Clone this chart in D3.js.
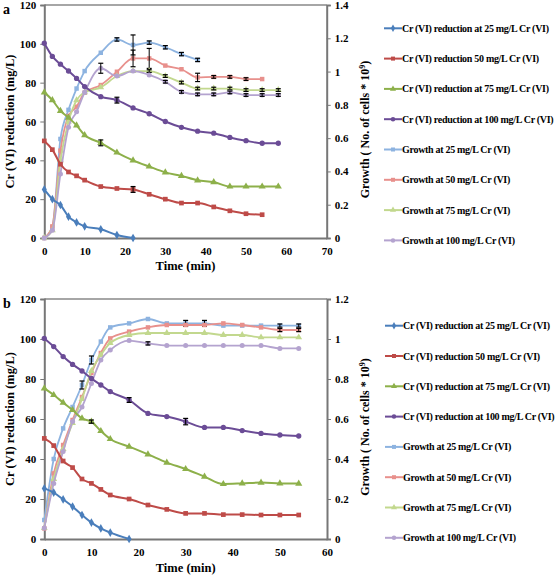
<!DOCTYPE html>
<html><head><meta charset="utf-8">
<script src="https://cdn.jsdelivr.net/npm/d3@7"></script>
<style>
body{margin:0;background:#fff;}
svg text{font-family:"Liberation Serif","Times New Roman",serif;font-weight:bold;fill:#000;}
</style></head>
<body><svg id="c" width="557" height="577"></svg>
<script>
// ---------- DATA ----------
const seriesNames = [
  "Cr (VI) reduction at 25 mg/L Cr (VI)",
  "Cr (VI) reduction 50 mg/L Cr (VI)",
  "Cr (VI) reduction at 75 mg/L Cr (VI)",
  "Cr (VI) reduction at 100 mg/L Cr (VI)",
  "Growth at 25 mg/L Cr (VI)",
  "Growth at 50 mg/L Cr (VI)",
  "Growth at 75 mg/L Cr (VI)",
  "Growth at 100 mg/L Cr (VI)"
];
const seriesColors = ["#4A7EBB","#BE4B48","#8DB04A","#6B4C96","#8DB3E0","#E8908C","#C2D88E","#B4A3CF"];
const seriesMarkers = ["diamond","square","triangle","circle","square","square","triangle","circle"];

// Panel a
const timeA = [0,2,4,6,8,10,14,18,22,26,30,34,38,42,46,50,54,58];
const crA25  = [25,20,17,11,8,6,4.5,1.5,0];
const crA50  = [50,45.5,38,34,32,29.8,26.5,25.5,25,22.5,20,18,18,16,14,12.5,12];
const crA75  = [75,71,65.5,62,58,53,49,44,40,36.8,33.8,32,29.7,28.8,26.5,26.5,26.5,26.5];
const crA100 = [100.3,93.5,89.5,86,82.2,78,72.8,71,67,64,60,57,55,54,51.8,50.1,48.8,48.8];
const grA25  = [0,0.064,0.595,0.77,0.898,1.003,1.113,1.193,1.16,1.174,1.146,1.105,1.07];
const grA50  = [0,0.07,0.525,0.733,0.789,0.873,0.919,0.999,1.079,1.079,1.036,1.014,0.965,0.968,0.968,0.955,0.955];
const grA75  = [0,0.047,0.467,0.70,0.828,0.875,0.905,0.973,1.003,1.003,0.973,0.934,0.898,0.898,0.898,0.889,0.889,0.889];
const grA100 = [0,0.047,0.385,0.665,0.758,0.875,1.02,0.973,1.003,0.98,0.939,0.878,0.863,0.863,0.875,0.859,0.859,0.859];
// error bars [time, +/- error]
const errA = [[],[[22,1.5]],[[14,1.5]],[[18,1.5]],
  [[22,0.06],[18,0.01],[26,0.01],[30,0.01],[34,0.01],[38,0.01]],
  [[22,0.05],[26,0.06],[38,0.025],[42,0.008],[46,0.008],[50,0.008]],
  [[26,0.008],[30,0.008],[34,0.008],[38,0.008],[42,0.008],[46,0.008],[50,0.008],[54,0.008],[58,0.008]],
  [[14,0.03],[30,0.008],[34,0.008],[38,0.008],[42,0.008],[46,0.008],[50,0.008],[54,0.008],[58,0.008]]];
const xTicksA = [0,10,20,30,40,50,60,70];
const yLTicksA = [0,20,40,60,80,100,120];
const yRTicksA = [0,0.2,0.4,0.6,0.8,1,1.2,1.4];

// Panel b
const timeB = [0,2,4,6,8,10,12,14,18,22,26,30,34,38,42,46,50,54];
const crB25  = [25.3,23.2,19.8,16.2,12,8.2,5.3,3.2,0];
const crB50  = [50.3,46.7,39,35.7,30,27.8,24.8,22,20,17,14.8,12.8,12.8,12.2,12.2,12,12,12];
const crB75  = [75.3,72,68.2,64.5,60.3,58.7,54,50,46.2,42.3,38.2,35,31.2,27.5,27.8,28.2,27.8,27.7];
const crB100 = [100.3,96.2,91.2,87.3,84,80.3,77,73.7,69.5,62.8,61.2,58.7,55.8,55.8,54.2,52.8,52,51.5];
const grB25  = [0.095,0.40,0.553,0.66,0.77,0.895,0.987,1.058,1.078,1.10,1.078,1.078,1.078,1.067,1.067,1.067,1.067,1.067];
const grB50  = [0.053,0.328,0.47,0.595,0.71,0.83,0.93,1.003,1.037,1.058,1.07,1.07,1.07,1.078,1.07,1.058,1.045,1.045];
const grB75  = [0.055,0.30,0.45,0.58,0.70,0.84,0.92,0.98,1.02,1.03,1.03,1.03,1.03,1.02,1.02,1.008,1.008,1.008];
const grB100 = [0.055,0.278,0.437,0.587,0.66,0.778,0.895,0.945,0.992,0.978,0.967,0.967,0.967,0.967,0.967,0.967,0.953,0.953];
const errB = [[],[],[[10,0.8]],[[18,1.2],[30,1.6]],
  [[8,0.02],[10,0.02],[30,0.015],[34,0.015],[50,0.008],[54,0.008]],
  [[50,0.008],[54,0.008]],
  [],
  [[22,0.008]]];
const xTicksB = [0,10,20,30,40,50,60];
const yLTicksB = [0,20,40,60,80,100,120];
const yRTicksB = [0,0.2,0.4,0.6,0.8,1,1.2];

// ---------- DRAW ----------
const svg = d3.select("#c");

function markerPath(type, s){
  const sym = {diamond:d3.symbolDiamond, square:d3.symbolSquare, triangle:d3.symbolTriangle, circle:d3.symbolCircle}[type];
  return d3.symbol().type(sym).size(s)();
}

function panel(cfg){
  const g = svg.append("g");
  const x = d3.scaleLinear().domain([0, cfg.xMax]).range([cfg.left, cfg.right]);
  const yL = d3.scaleLinear().domain([0,120]).range([cfg.bottom, cfg.top]);
  const yR = d3.scaleLinear().domain([0, cfg.rMax]).range([cfg.bottom, cfg.top]);

  // frame
  g.append("line").attr("x1",cfg.left).attr("x2",cfg.right).attr("y1",cfg.top).attr("y2",cfg.top)
    .attr("stroke","#888").attr("stroke-width",1.5);

  const ax = d3.axisBottom(x).tickValues(cfg.xTicks).tickSize(0).tickPadding(9);
  const gx = g.append("g").attr("transform",`translate(0,${cfg.bottom})`).call(ax);
  const al = d3.axisLeft(yL).tickValues(cfg.yLTicks).tickSize(4).tickPadding(4);
  const gl = g.append("g").attr("transform",`translate(${cfg.left},0)`).call(al);
  const ar = d3.axisRight(yR).tickValues(cfg.yRTicks).tickSize(4).tickPadding(4)
     .tickFormat(d=>d3.format("~g")(d));
  const gr = g.append("g").attr("transform",`translate(${cfg.right},0)`).call(ar);
  [gx,gl,gr].forEach(a=>{
    a.select(".domain").attr("stroke","#777").attr("stroke-width",2);
    a.selectAll(".tick line").attr("stroke","#777");
    a.selectAll("text").attr("font-size",11).attr("font-family","Liberation Serif").attr("font-weight","bold");
  });

  const all = [
    {t:cfg.time, v:cfg.cr[0], s:yL}, {t:cfg.time, v:cfg.cr[1], s:yL},
    {t:cfg.time, v:cfg.cr[2], s:yL}, {t:cfg.time, v:cfg.cr[3], s:yL},
    {t:cfg.time, v:cfg.gr[0], s:yR}, {t:cfg.time, v:cfg.gr[1], s:yR},
    {t:cfg.time, v:cfg.gr[2], s:yR}, {t:cfg.time, v:cfg.gr[3], s:yR}
  ];
  // draw order: growth first (light) then reduction on top
  const order = [4,5,6,7,0,1,2,3];
  order.forEach(i=>{
    const S = all[i];
    const pts = S.v.map((v,k)=>[S.t[k], v]);
    const line = d3.line().x(d=>x(d[0])).y(d=>S.s(d[1])).curve(d3.curveMonotoneX);
    g.append("path").attr("d", line(pts)).attr("fill","none")
      .attr("stroke", seriesColors[i]).attr("stroke-width", i<4?2:1.8);
    g.selectAll(null).data(pts).enter().append("path")
      .attr("d", markerPath(seriesMarkers[i], i<4?22:20))
      .attr("transform", d=>`translate(${x(d[0])},${S.s(d[1])})`)
      .attr("fill", seriesColors[i]);
    // error bars
    const errs = cfg.err[i];
    errs.forEach(([t,e])=>{
      const k = S.t.indexOf(t); if(k<0 || k>=S.v.length) return;
      const cx = x(t), y1 = S.s(S.v[k]+e), y2 = S.s(S.v[k]-e);
      g.append("line").attr("x1",cx).attr("x2",cx).attr("y1",y1).attr("y2",y2).attr("stroke","#000").attr("stroke-width",1);
      [y1,y2].forEach(yy=>g.append("line").attr("x1",cx-2.5).attr("x2",cx+2.5).attr("y1",yy).attr("y2",yy).attr("stroke","#000").attr("stroke-width",1.2));
    });
  });

  // titles
  g.append("text").attr("transform",`translate(${cfg.left-30},${(cfg.top+cfg.bottom)/2}) rotate(-90)`)
    .attr("text-anchor","middle").attr("font-size",12.5).text("Cr (VI) reduction (mg/L)");
  const rt = g.append("text").attr("transform",`translate(${cfg.right+42},${(cfg.top+cfg.bottom)/2+8}) rotate(-90)`)
    .attr("text-anchor","middle").attr("font-size",12);
  rt.append("tspan").text("Growth ( No. of cells * 10");
  rt.append("tspan").attr("font-size",8).attr("dy",-4).text("9");
  rt.append("tspan").attr("dy",4).text(")");
  g.append("text").attr("x",(cfg.left+cfg.right)/2).attr("y",cfg.xTitleY).attr("text-anchor","middle")
    .attr("font-size",12.5).text("Time (min)");
  g.append("text").attr("x",3).attr("y",cfg.top+9).attr("font-size",14).text(cfg.label);

  // legend
  seriesNames.forEach((n,i)=>{
    const ly = cfg.legY[0] + i*cfg.legStep;
    const lx = cfg.legX;
    g.append("line").attr("x1",lx).attr("x2",lx+18).attr("y1",ly).attr("y2",ly)
      .attr("stroke",seriesColors[i]).attr("stroke-width",2);
    g.append("path").attr("d",markerPath(seriesMarkers[i],16)).attr("transform",`translate(${lx+9},${ly})`)
      .attr("fill",seriesColors[i]);
    g.append("text").attr("x",lx+18).attr("y",ly+3.5).attr("font-size",10).attr("letter-spacing",-0.3).text(n);
  });
}

panel({label:"a", left:44.3, right:326.7, top:5, bottom:238, xMax:70, rMax:1.4,
  xTicks:xTicksA, yLTicks:yLTicksA, yRTicks:yRTicksA, time:timeA,
  cr:[crA25,crA50,crA75,crA100], gr:[grA25,grA50,grA75,grA100], err:errA,
  xTitleY:270, legX:384, legY:[28.3], legStep:30.3});
panel({label:"b", left:44.3, right:327, top:299, bottom:539, xMax:60, rMax:1.2,
  xTicks:xTicksB, yLTicks:yLTicksB, yRTicks:yRTicksB, time:timeB,
  cr:[crB25,crB50,crB75,crB100], gr:[grB25,grB50,grB75,grB100], err:errB,
  xTitleY:572, legX:385, legY:[325.7], legStep:30.3});
</script></body></html>
